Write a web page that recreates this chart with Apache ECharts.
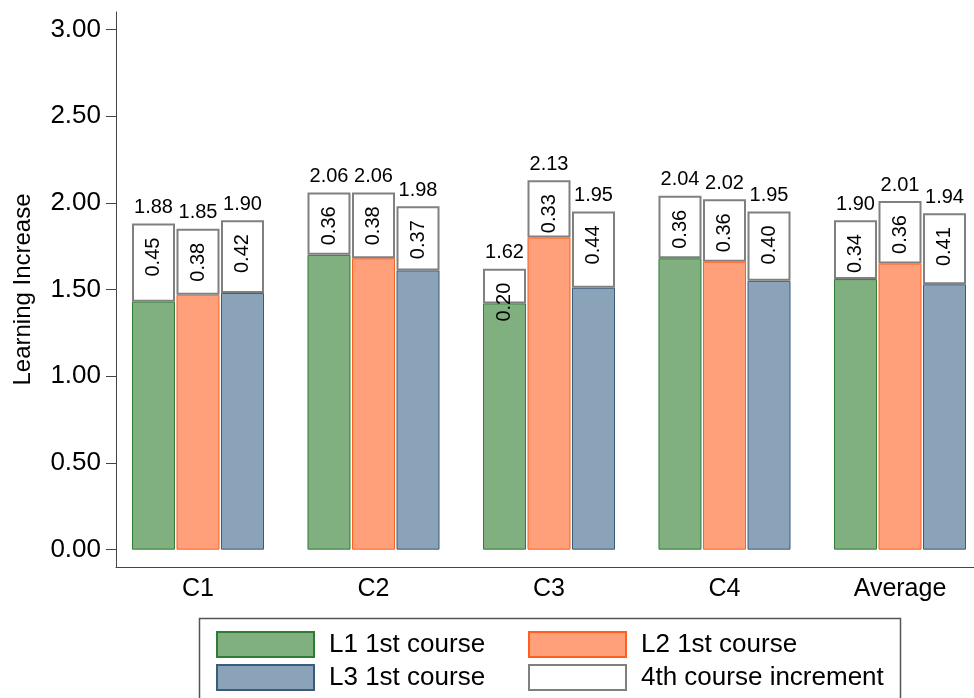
<!DOCTYPE html>
<html>
<head>
<meta charset="utf-8">
<script src="https://cdn.jsdelivr.net/npm/echarts@6/dist/echarts.min.js"></script>
<style>
html,body{margin:0;padding:0;background:#fff;}
#chart{width:974px;height:698px;}
</style>
</head>
<body>
<div id="chart"></div>
<script>
// ---- data ----
const categories = ['C1', 'C2', 'C3', 'C4', 'Average'];
const L1_first = [1.43, 1.70, 1.42, 1.68, 1.56];
const L2_first = [1.47, 1.68, 1.80, 1.66, 1.65];
const L3_first = [1.48, 1.61, 1.51, 1.55, 1.53];
const inc_L1 = [0.45, 0.36, 0.20, 0.36, 0.34];
const inc_L2 = [0.38, 0.38, 0.33, 0.36, 0.36];
const inc_L3 = [0.42, 0.37, 0.44, 0.40, 0.41];
const yTicks = [0, 0.5, 1.0, 1.5, 2.0, 2.5, 3.0];
const seriesNames = ['L1 1st course', 'L2 1st course', 'L3 1st course', '4th course increment'];

// ---- chart ----
const FONT = 'Liberation Sans, Arial, sans-serif';
const chart = echarts.init(document.getElementById('chart'), null, {renderer: 'canvas'});

const bases = [L1_first, L2_first, L3_first];
const incs = [inc_L1, inc_L2, inc_L3];
const fills = ['#80b080', '#ffa07a', '#8ba3b9'];
const borders = ['#2e7d32', '#ff5f1f', '#3b5b7b'];
const stacks = ['s1', 's2', 's3'];

const barCommon = {type: 'bar', barWidth: 43, barGap: '3.5%', xAxisIndex: 0, yAxisIndex: 0, animation: false};

const series = [];
for (let i = 0; i < 3; i++) {
  series.push(Object.assign({}, barCommon, {
    name: seriesNames[i], stack: stacks[i], data: bases[i],
    itemStyle: {color: fills[i], borderColor: borders[i], borderWidth: 1}
  }));
}
for (let i = 0; i < 3; i++) {
  series.push(Object.assign({}, barCommon, {
    name: seriesNames[3], stack: stacks[i], data: incs[i],
    itemStyle: {color: '#ffffff', borderColor: '#808080', borderWidth: 2},
    label: {
      show: true, position: 'insideTop', distance: 14, rotate: 90,
      align: 'right', verticalAlign: 'middle',
      fontFamily: FONT, fontSize: 20, color: '#000',
      formatter: p => Number(p.value).toFixed(2)
    }
  }));
}
for (let i = 0; i < 3; i++) {
  const b = bases[i], c = incs[i];
  series.push(Object.assign({}, barCommon, {
    name: 'total' + (i + 1), stack: stacks[i], data: b.map(() => 0), silent: true,
    itemStyle: {color: 'rgba(0,0,0,0)', borderWidth: 0},
    label: {
      show: true, position: 'top', distance: 6,
      fontFamily: FONT, fontSize: 20, color: '#000',
      formatter: p => (b[p.dataIndex] + c[p.dataIndex]).toFixed(2)
    }
  }));
}

const option = {
  animation: false,
  backgroundColor: '#ffffff',
  textStyle: {fontFamily: FONT},
  grid: [
    {left: 110.25, width: 877.5, top: 12, bottom: 131, containLabel: false, outerBoundsMode: 'none'},
    {left: 116, right: 0, top: 12, bottom: 131, containLabel: false, outerBoundsMode: 'none'}
  ],
  xAxis: [
    {
      gridIndex: 0, type: 'category', data: categories,
      axisLine: {show: false}, axisTick: {show: false},
      axisLabel: {fontFamily: FONT, fontSize: 25, color: '#000', margin: 10},
      splitLine: {show: false}
    },
    {
      gridIndex: 1, type: 'value', min: 0, max: 1, position: 'bottom',
      axisLine: {show: true, onZero: false, lineStyle: {color: '#444', width: 1}},
      axisTick: {show: false}, axisLabel: {show: false}, splitLine: {show: false}
    }
  ],
  yAxis: [
    {gridIndex: 0, type: 'value', min: -0.1, max: 3.1, show: false},
    {
      gridIndex: 1, type: 'value', min: -0.1, max: 3.1,
      name: 'Learning Increase', nameLocation: 'middle', nameGap: 81,
      nameTextStyle: {fontFamily: FONT, fontSize: 24, color: '#000'},
      axisLine: {show: true, onZero: false, lineStyle: {color: '#444', width: 1}},
      axisTick: {show: true, length: 10, customValues: yTicks, lineStyle: {color: '#444'}},
      axisLabel: {
        customValues: yTicks, margin: 15,
        fontFamily: FONT, fontSize: 26, color: '#000',
        formatter: v => Number(v).toFixed(2)
      },
      splitLine: {show: false}
    }
  ],
  legend: [
    {
      left: 211, top: 626, orient: 'vertical', itemGap: 6,
      itemWidth: 97, itemHeight: 25, selectedMode: false, icon: 'rect',
      data: [seriesNames[0], seriesNames[2]],
      textStyle: {fontFamily: FONT, fontSize: 26, color: '#000', padding: [0, 0, 0, 10]}
    },
    {
      left: 523, top: 626, orient: 'vertical', itemGap: 6,
      itemWidth: 97, itemHeight: 25, selectedMode: false, icon: 'rect',
      data: [seriesNames[1], seriesNames[3]],
      textStyle: {fontFamily: FONT, fontSize: 26, color: '#000', padding: [0, 0, 0, 10]}
    }
  ],
  graphic: [
    {
      type: 'rect', left: 197, top: 616, silent: true,
      shape: {width: 701, height: 100},
      style: {fill: 'none', stroke: '#555', lineWidth: 1.5}
    }
  ],
  series: series
};
chart.setOption(option);
</script>
</body>
</html>
